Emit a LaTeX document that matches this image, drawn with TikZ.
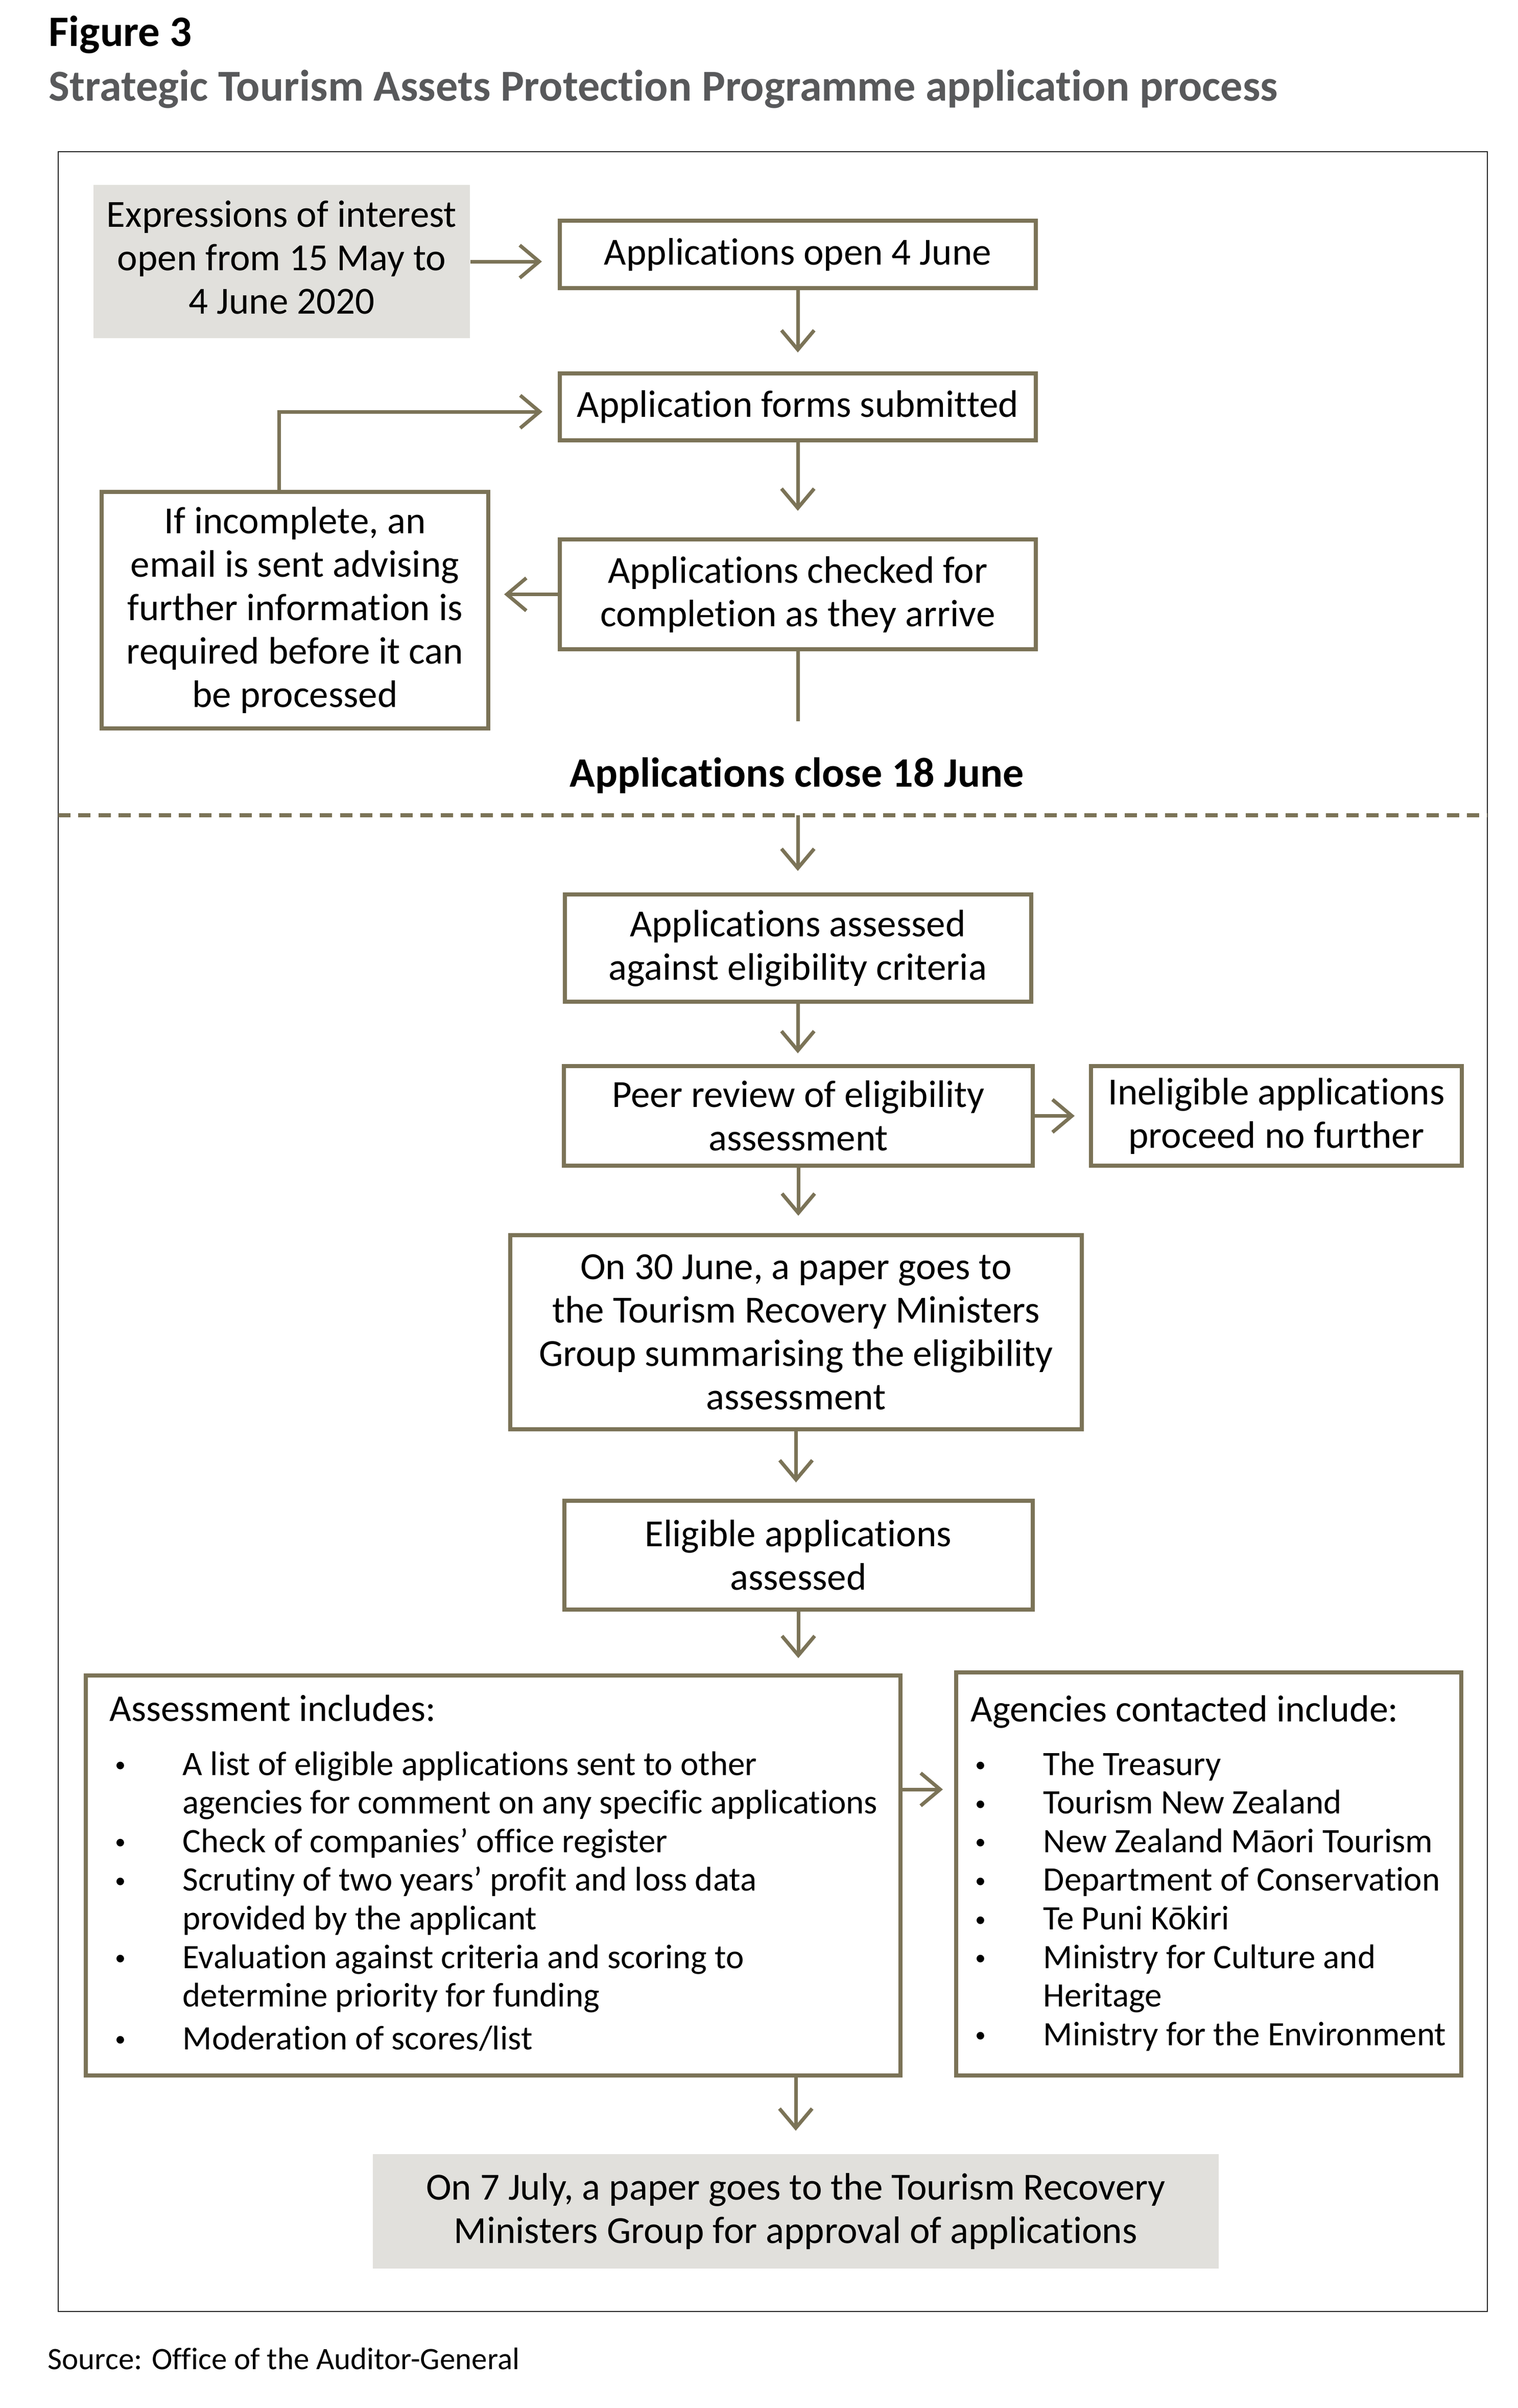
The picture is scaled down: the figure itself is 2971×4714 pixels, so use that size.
\documentclass[tikz,border=0pt]{standalone}
\usepackage{fontspec}
\setmainfont{Carlito}[Ligatures=NoCommon]
\usetikzlibrary{arrows.meta,calc}
\definecolor{olive}{RGB}{123,115,87}
\definecolor{boxgray}{RGB}{225,224,220}
\definecolor{titlegray}{RGB}{88,89,91}
\newcommand\bodyfont{\fontsize{18.75}{21.25}\selectfont}
\newcommand\listfont{\fontsize{16.75}{18.9}\selectfont}
\newcommand\headfont{\fontsize{18.5}{21}\selectfont}
\newcommand\bul{\raisebox{1.6pt}{\fontsize{10.5}{10.5}\selectfont •}}
\begin{document}
\begin{tikzpicture}[x=0.25pt,y=-0.25pt,
  flowbox/.style={draw=olive, line width=2pt, fill=white, align=center, inner sep=0pt, font=\bodyfont},
  greybox/.style={fill=boxgray, align=center, inner sep=0pt, font=\bodyfont},
  conn/.style={draw=olive, line width=1.75pt, -{Straight Barb[length=9.5pt,width=16pt]}},
  plainline/.style={draw=olive, line width=1.75pt},
  txt/.style={inner sep=0pt, anchor=base west},
]
\useasboundingbox (0,0) rectangle (2971,4714);
% titles
\node[txt, font=\fontsize{21.25}{25}\selectfont\bfseries] (fig) at (95,90) {Figure 3};
\node[txt, font=\fontsize{21.6}{25}\selectfont\bfseries, text=titlegray] (sub) at (95,197) {Strategic Tourism Assets Protection Programme application process};
% frame
\node[draw=black!85, line width=0.5pt, minimum width=699.5pt, minimum height=1057pt, inner sep=0pt] (frame) at (1513,2411) {};
% boxes
\node[greybox, minimum width=184.25pt, minimum height=75pt] (exp) at (551.5,512) {\raisebox{2.25pt}{\begin{tabular}{@{}c@{}}Expressions of interest\\open from 15 May to\\4 June 2020\end{tabular}}};
\node[flowbox, minimum width=233pt, minimum height=33pt] (open) at (1562,498) {Applications open 4 June};
\node[flowbox, minimum width=233pt, minimum height=32.75pt] (forms) at (1562,796.5) {Application forms submitted};
\node[flowbox, minimum width=233pt, minimum height=53.75pt] (checked) at (1562,1163.5) {Applications checked for\\completion as they arrive};
\node[flowbox, minimum width=189.25pt, minimum height=115.75pt] (incomplete) at (577.5,1194.5) {If incomplete, an\\email is sent advising\\further information is\\required before it can\\be processed};
\node[txt, anchor=base, font=\fontsize{20.5}{24}\selectfont\bfseries] (close) at (1560,1540) {Applications close 18 June};
\node[flowbox, minimum width=228.25pt, minimum height=52.5pt] (assessed) at (1562,1856) {Applications assessed\\against eligibility criteria};
\node[flowbox, minimum width=229.5pt, minimum height=48.75pt] (peer) at (1563,2184.5) {Peer review of eligibility\\assessment};
\node[flowbox, minimum width=181.5pt, minimum height=48.75pt] (inelig) at (2499,2184.5) {Ineligible applications\\proceed no further};
\node[flowbox, minimum width=279.75pt, minimum height=95pt] (paper30) at (1558.5,2608) {On 30 June, a paper goes to\\the Tourism Recovery Ministers\\Group summarising the eligibility\\assessment};
\node[flowbox, minimum width=229.25pt, minimum height=53.25pt] (eligible) at (1563,3044.5) {Eligible applications\\assessed};
\node[flowbox, minimum width=398.75pt, minimum height=195.75pt] (assess) at (965.5,3671.5) {};
\node[flowbox, minimum width=247.25pt, minimum height=197.25pt] (agencies) at (2366.5,3668.5) {};
\node[greybox, minimum width=414pt, minimum height=56pt] (final) at (1558,4329) {On 7 July, a paper goes to the Tourism Recovery\\Ministers Group for approval of applications};
% list texts
\node[txt, font=\headfont] (assesshead) at (214,3369) {Assessment includes:};
\node[txt, font=\listfont] (assesslist) at (225,3475) {\begin{tabular}[t]{@{}p{33pt}@{}l@{}}
\bul&A list of eligible applications sent to other\\
 &agencies for comment on any specific applications\\
\bul&Check of companies’ office register\\
\bul&Scrutiny of two years’ profit and loss data\\
 &provided by the applicant\\
\bul&Evaluation against criteria and scoring to\\
 &determine priority for funding\\[2pt]
\bul&Moderation of scores/list
\end{tabular}};
\node[txt, font=\headfont] (agencieshead) at (1900,3370) {Agencies contacted include:};
\node[txt, font=\listfont] (agencieslist) at (1909,3475) {\begin{tabular}[t]{@{}p{33.25pt}@{}l@{}}
\bul&The Treasury\\
\bul&Tourism New Zealand\\
\bul&New Zealand Māori Tourism\\
\bul&Department of Conservation\\
\bul&Te Puni Kōkiri\\
\bul&Ministry for Culture and\\
 &Heritage\\
\bul&Ministry for the Environment
\end{tabular}};
\node[txt, font=\fontsize{15.25}{18}\selectfont] (source) at (93,4638) {Source: Office of the Auditor-General};
% coordinates
\coordinate (fbk) at (546,963);
\coordinate (cend) at (1562,1412);
\coordinate (dl) at (114,1596);
\coordinate (dr) at (2912,1596);
\coordinate (dm) at (1562,1596);
\coordinate (ae) at ($(assess.north east)+(0,227)$);
% connectors
\draw[conn, shorten >=7.75pt] (exp.east) -- (exp.east -| open.west);
\draw[conn, shorten >=9.25pt] (open.south) -- (forms.north);
\draw[conn, shorten >=13pt] (forms.south) -- (checked.north);
\draw[conn, shorten >=6.75pt] (checked.west) -- (checked.west -| incomplete.east);
\draw[conn, shorten >=7.5pt] (fbk) |- ($(forms.west)+(0,9.5)$);
\draw[plainline] (checked.south) -- (cend);
\draw[olive, line width=2pt, dash pattern=on 6pt off 3.85pt] (dl) -- (dr);
\draw[conn, shorten >=10.5pt] (dm) -- (assessed.north);
\draw[conn, shorten >=5.25pt] (assessed.south) -- (assessed.south |- peer.north);
\draw[conn, shorten >=7pt] (peer.east) -- (inelig.west);
\draw[conn, shorten >=8.5pt] (peer.south) -- (peer.south |- paper30.north);
\draw[conn, shorten >=8pt] (paper30.south) -- (paper30.south |- eligible.north);
\draw[conn, shorten >=7.5pt] (eligible.south) -- (eligible.south |- assess.north);
\draw[conn, shorten >=5.5pt] (ae) -- (ae -| agencies.west);
\draw[conn, shorten >=11.25pt] (final.north |- assess.south) -- (final.north);
\end{tikzpicture}
\end{document}
